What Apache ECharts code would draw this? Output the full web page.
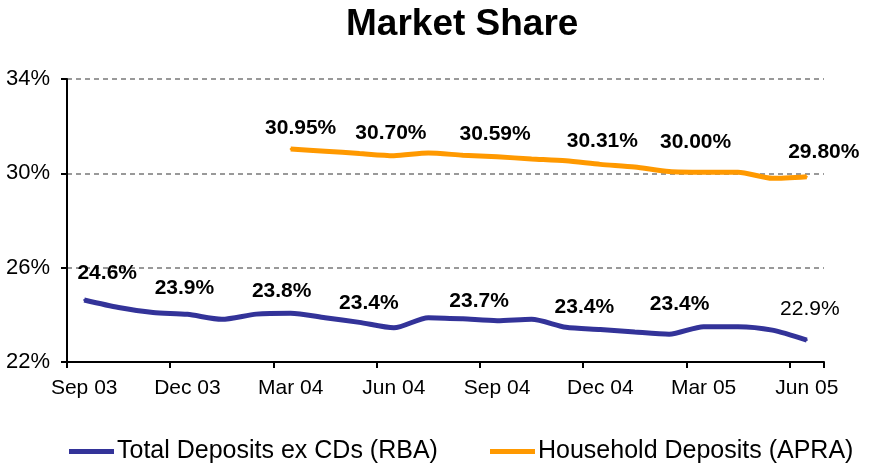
<!DOCTYPE html>
<html>
<head>
<meta charset="utf-8">
<script src="https://cdn.jsdelivr.net/npm/echarts@6/dist/echarts.min.js"></script>
<style>
  html, body { margin: 0; padding: 0; background: #fff; }
  #chart { width: 870px; height: 468px; }
</style>
</head>
<body>
<div id="chart"></div>
<script>
const months = ['Sep 03', 'Oct 03', 'Nov 03', 'Dec 03', 'Jan 04', 'Feb 04', 'Mar 04', 'Apr 04',
  'May 04', 'Jun 04', 'Jul 04', 'Aug 04', 'Sep 04', 'Oct 04', 'Nov 04', 'Dec 04', 'Jan 05',
  'Feb 05', 'Mar 05', 'Apr 05', 'May 05', 'Jun 05']

// Total Deposits ex CDs (RBA), %
const totalDeposits = [24.63, 24.31, 24.10, 24.02, 23.81, 24.03, 24.07, 23.88, 23.68, 23.45, 23.88,
  23.83, 23.75, 23.81, 23.47, 23.38, 23.27, 23.18, 23.50, 23.50, 23.35, 22.93]

// Household Deposits (APRA), % (starts Mar 04)
const householdDeposits = [null, null, null, null, null, null, 31.03, 30.94, 30.84, 30.75, 30.86,
  30.77, 30.70, 30.61, 30.53, 30.38, 30.27, 30.08, 30.05, 30.05, 29.79, 29.86]

// annotation texts and the month they belong to
const totalLabelIdx = [0, 3, 6, 9, 12, 15, 18, 21]
const totalLabelText = ['24.6%', '23.9%', '23.8%', '23.4%', '23.7%', '23.4%', '23.4%', '22.9%']
const householdLabelIdx = [6, 9, 12, 15, 18, 21]
const householdLabelText = ['30.95%', '30.70%', '30.59%', '30.31%', '30.00%', '29.80%']

const yTicks = [22, 26, 30, 34]

// label offsets (px) relative to the point
const totalOffsets = [[23, -27], [-3, -26], [-9, -22], [-25, -25], [-18, -20], [-16, -22], [-24, -22], [3, -31]]
const householdOffsets = [[10, -21], [-3, -22], [-2, -23], [2, -23], [-8, -30], [17, -24]]

const FONT = '"Liberation Sans", Arial, sans-serif'

const withLabels = (values, idxs, texts, offsets, boldLast) =>
  values.map((v, i) => {
    const k = idxs.indexOf(i)
    if (k < 0 || v == null) return v
    return {
      value: v,
      label: {
        show: true,
        position: 'inside',
        formatter: texts[k],
        offset: offsets[k],
        fontWeight: (boldLast || k < texts.length - 1) ? 'bold' : 'normal',
      },
    }
  })

const legendText = { fontFamily: FONT, fontSize: 25, color: '#000', padding: [0, 0, 0, -2] }

const chart = echarts.init(document.getElementById('chart'), null, { renderer: 'canvas' })

chart.setOption({
  animation: false,
  backgroundColor: '#fff',
  textStyle: { fontFamily: FONT },
  title: {
    text: 'Market Share',
    left: 341,
    top: 1,
    textStyle: { fontFamily: FONT, fontSize: 37, fontWeight: 'bold', color: '#000' },
  },
  grid: { left: 67, right: 46, top: 79, bottom: 106, containLabel: false },
  legend: [
    {
      left: 64, top: 434, itemWidth: 45, itemHeight: 5, icon: 'rect',
      textStyle: legendText, data: ['Total Deposits ex CDs (RBA)'],
    },
    {
      left: 485, top: 434, itemWidth: 45, itemHeight: 5, icon: 'rect',
      textStyle: legendText, data: ['Household Deposits (APRA)'],
    },
  ],
  xAxis: {
    type: 'category',
    data: months,
    boundaryGap: true,
    axisLine: { lineStyle: { color: '#000', width: 2 } },
    axisTick: { show: true, interval: 2, length: 6, lineStyle: { color: '#000', width: 2 } },
    axisLabel: { interval: 2, margin: 16, fontSize: 21, color: '#000', fontFamily: FONT },
    splitLine: { show: false },
  },
  yAxis: {
    type: 'value',
    min: yTicks[0],
    max: yTicks[yTicks.length - 1],
    interval: yTicks[1] - yTicks[0],
    axisLine: { show: true, lineStyle: { color: '#000', width: 2 } },
    axisTick: { show: true, length: 6, lineStyle: { color: '#000', width: 2 } },
    axisLabel: { formatter: '{value}%', margin: 17, fontSize: 22, color: '#000', fontFamily: FONT },
    splitLine: { show: true, lineStyle: { color: '#999', width: 2, type: [5, 4] } },
  },
  series: [
    {
      name: 'Total Deposits ex CDs (RBA)',
      type: 'line',
      data: withLabels(totalDeposits, totalLabelIdx, totalLabelText, totalOffsets, false),
      smooth: 0.25,
      symbol: 'circle',
      symbolSize: 2,
      showSymbol: true,
      showAllSymbol: true,
      color: '#333399',
      lineStyle: { color: '#333399', width: 5 },
      label: { fontSize: 21, color: '#000', fontFamily: FONT },
      z: 3,
    },
    {
      name: 'Household Deposits (APRA)',
      type: 'line',
      data: withLabels(householdDeposits, householdLabelIdx, householdLabelText, householdOffsets, true),
      smooth: 0.25,
      symbol: 'circle',
      symbolSize: 2,
      showSymbol: true,
      showAllSymbol: true,
      color: '#FF9900',
      lineStyle: { color: '#FF9900', width: 5 },
      label: { fontSize: 21, color: '#000', fontFamily: FONT },
      z: 3,
    },
  ],
})
</script>
</body>
</html>
